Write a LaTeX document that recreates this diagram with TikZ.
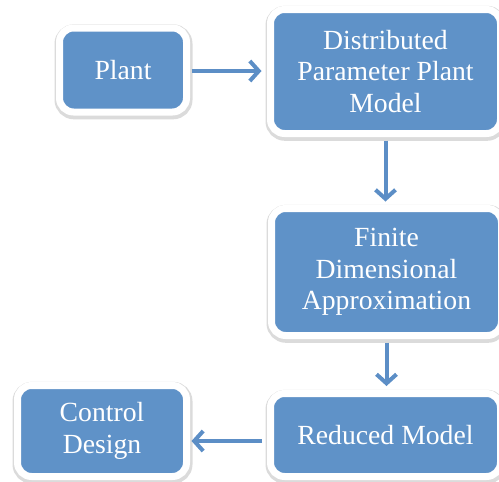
\documentclass[tikz,border=0pt]{standalone}
\usepackage{fontspec}
\setmainfont{Liberation Serif}
\usetikzlibrary{arrows.meta}
\definecolor{boxblue}{RGB}{95,146,200}
\definecolor{arrowblue}{RGB}{92,142,198}
\tikzset{
  blockbox/.style={rounded corners=14pt, fill=boxblue, draw=white, line width=7pt,
    preaction={draw=black!14, line width=11pt, transform canvas={xshift=0.5pt,yshift=-1.8pt}},
    text=white, align=center, inner sep=0pt,
    font=\fontsize{27.7}{31.5}\selectfont},
  flow/.style={draw=arrowblue, line width=4pt,
    -{Straight Barb[length=9pt,width=20pt,line width=4pt]}}
}
\begin{document}
\begin{tikzpicture}[x=1pt,y=-1pt]
\useasboundingbox (0,0) rectangle (499,482);
\node[blockbox, minimum width=127pt, minimum height=84pt] (plant) at (123,70) {Plant};
\node[blockbox, minimum width=230pt, minimum height=124pt] (dist) at (385.5,71.5) {Distributed\\Parameter Plant\\Model};
\node[blockbox, minimum width=230pt, minimum height=127pt] (fin) at (386.5,272) {Finite\\Dimensional\\Approximation};
\node[blockbox, minimum width=230pt, minimum height=83pt] (red) at (385.5,435) {Reduced Model};
\node[blockbox, minimum width=169pt, minimum height=91pt] (ctl) at (102,431) {Control\\Design};
\draw[flow, shorten <=1.5pt, shorten >=5.5pt] (plant.east |- 0,71) -- (dist.west |- 0,71);
\draw[flow, shorten <=3.5pt, shorten >=3.5pt] (dist.south) -- (dist.south |- fin.north);
\draw[flow, shorten <=3.5pt, shorten >=4pt] (fin.south) -- (fin.south |- red.north);
\draw[flow, shorten <=5pt, shorten >=1.5pt] (red.west |- 0,441) -- (ctl.east |- 0,441);
\end{tikzpicture}
\end{document}
